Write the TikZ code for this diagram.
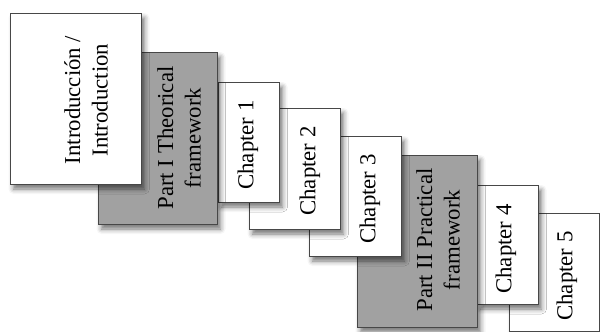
\documentclass[tikz,border=0pt]{standalone}
\usepackage{fontspec}
\setmainfont{Liberation Serif}
\usetikzlibrary{shadows.blur}
\begin{document}
\begin{tikzpicture}[x=1pt,y=-1pt,
  page/.style={draw=black!72,line width=0.9pt,fill=white,anchor=north west,
    inner sep=0pt,outer sep=0pt,
    blur shadow={shadow xshift=3.5pt,shadow yshift=-5pt,shadow blur radius=5pt,shadow opacity=55}},
  partpage/.style={page,fill=black!37},
  pagetext/.style={rotate=90,align=center,inner sep=0pt,
    font=\fontsize{22.8}{27.5}\selectfont}]
\useasboundingbox (0,0) rectangle (600,332);
% stacked pages, drawn from the back to the front
\node[page,minimum width=90pt,minimum height=118pt] (ch5) at (509,213) {};
\node[pagetext] (ch5t) at (567,276) {Chapter 5};
\node[page,minimum width=61pt,minimum height=119pt] (ch4) at (477,185) {};
\node[pagetext] (ch4t) at (506,249) {Chapter 4};
\node[partpage,minimum width=120pt,minimum height=172pt] (p2) at (357,155) {};
\node[pagetext] (p2t) at (438,240) {Part II Practical\\framework};
\node[page,minimum width=92pt,minimum height=120pt] (ch3) at (309,136) {};
\node[pagetext] (ch3t) at (370,199) {Chapter 3};
\node[page,minimum width=91pt,minimum height=121pt] (ch2) at (249,108) {};
\node[pagetext] (ch2t) at (310,171) {Chapter 2};
\node[page,minimum width=61pt,minimum height=120pt] (ch1) at (218,82) {};
\node[pagetext] (ch1t) at (248,145) {Chapter 1};
\node[partpage,minimum width=119pt,minimum height=172pt] (p1) at (98,52) {};
\node[pagetext] (p1t) at (179,138) {Part I Theorical\\framework};
\node[page,minimum width=131pt,minimum height=171pt] (intro) at (10,13) {};
\node[pagetext] (introt) at (86,100) {Introducción /\\Introduction};
\end{tikzpicture}
\end{document}
